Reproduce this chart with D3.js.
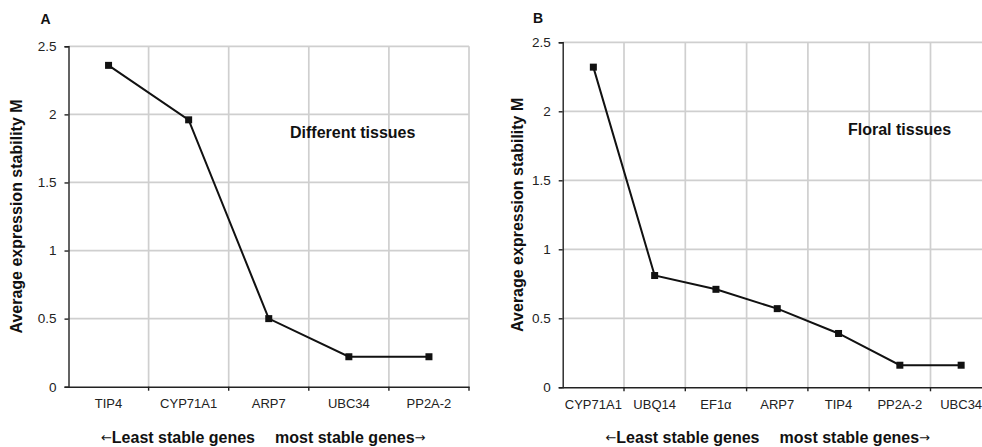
<!DOCTYPE html>
<html>
<head>
<meta charset="utf-8">
<script src="https://cdn.jsdelivr.net/npm/d3@7"></script>
<style>
  html, body { margin: 0; padding: 0; background: #fff; }
  svg { display: block; font-family: "Liberation Sans", Arial, sans-serif; }
</style>
</head>
<body>
<svg id="chart" width="982" height="447"></svg>
<script>
// ---- Data ----
const genesA = ["TIP4", "CYP71A1", "ARP7", "UBC34", "PP2A-2"];
const valuesA = [2.36, 1.96, 0.50, 0.22, 0.22];
const genesB = ["CYP71A1", "UBQ14", "EF1α", "ARP7", "TIP4", "PP2A-2", "UBC34"];
const valuesB = [2.32, 0.81, 0.71, 0.57, 0.39, 0.16, 0.16];
const yTicks = [0, 0.5, 1, 1.5, 2, 2.5];
const panelLabels = ["A", "B"];
const panelNotes = ["Different tissues", "Floral tissues"];
const yTitle = "Average expression stability M";
const xTitleLeft = "Least stable genes";
const xTitleRight = "most stable genes";

const svg = d3.select("#chart");

function panel(cfg) {
  const { left, right, top, bottom, genes, values, label, note, noteX, noteY,
          labelX, labelY, yTitleX, xTitleX } = cfg;
  const g = svg.append("g");
  const x = d3.scaleBand().domain(genes).range([left, right]).padding(0);
  const y = d3.scaleLinear().domain([0, 2.5]).range([bottom, top]);

  // horizontal grid
  g.append("g").selectAll("line").data(yTicks.filter(d => d > 0)).join("line")
    .attr("x1", left).attr("x2", right)
    .attr("y1", d => y(d)).attr("y2", d => y(d))
    .attr("stroke", "#cfcfcf").attr("stroke-width", 1.7);
  // vertical grid at band boundaries
  const bounds = genes.map(gn => x(gn) + x.bandwidth());
  g.append("g").selectAll("line").data(bounds).join("line")
    .attr("x1", d => d).attr("x2", d => d)
    .attr("y1", top).attr("y2", bottom)
    .attr("stroke", "#cfcfcf").attr("stroke-width", 1.7);

  // y axis
  const ya = g.append("g").attr("transform", `translate(${left},0)`)
    .call(d3.axisLeft(y).tickValues(yTicks).tickSize(4).tickPadding(8)
      .tickFormat(d => d3.format("")(d)));
  ya.select(".domain").attr("stroke", "#222").attr("stroke-width", 1.4);
  ya.selectAll(".tick line").attr("stroke", "#222").attr("stroke-width", 1.4);
  ya.selectAll(".tick text").attr("font-size", 13.5).attr("fill", "#222")
    .attr("font-family", "Liberation Sans, Arial, sans-serif");

  // x axis
  const xa = g.append("g").attr("transform", `translate(0,${bottom})`)
    .call(d3.axisBottom(x).tickSize(0).tickPadding(12));
  xa.select(".domain").attr("stroke", "#222").attr("stroke-width", 1.4);
  xa.selectAll(".tick text").attr("font-size", 13).attr("fill", "#222")
    .attr("font-family", "Liberation Sans, Arial, sans-serif");
  g.append("g").selectAll("line").data(bounds).join("line")
    .attr("x1", d => d).attr("x2", d => d)
    .attr("y1", bottom).attr("y2", bottom + 4)
    .attr("stroke", "#222").attr("stroke-width", 1.4);

  // line
  const pts = genes.map((gn, i) => [x(gn) + x.bandwidth() / 2, y(values[i])]);
  g.append("path").datum(pts)
    .attr("d", d3.line())
    .attr("fill", "none").attr("stroke", "#111").attr("stroke-width", 2);
  g.append("g").selectAll("rect").data(pts).join("rect")
    .attr("x", d => d[0] - 3.5).attr("y", d => d[1] - 3.5)
    .attr("width", 7).attr("height", 7).attr("fill", "#111");

  // texts
  g.append("text").attr("x", labelX).attr("y", labelY)
    .attr("text-anchor", "middle").attr("font-weight", "bold").attr("font-size", 14)
    .attr("fill", "#111").text(label);
  g.append("text").attr("x", noteX).attr("y", noteY)
    .attr("font-weight", "bold").attr("font-size", 16)
    .attr("fill", "#111").text(note);
  g.append("text")
    .attr("transform", `translate(${yTitleX},${(top + bottom) / 2}) rotate(-90)`)
    .attr("text-anchor", "middle").attr("font-weight", "bold").attr("font-size", 16)
    .attr("fill", "#111").text(yTitle);
  // x title: two halves around a gap, with thin arrows
  const lt = g.append("text").attr("x", xTitleX - 10).attr("y", 443)
    .attr("text-anchor", "end").attr("fill", "#111");
  lt.append("tspan").attr("font-family", "DejaVu Sans").attr("font-size", 13).attr("dy", -1).text("←");
  lt.append("tspan").attr("font-weight", "bold").attr("font-size", 16).attr("dy", 1).text(xTitleLeft);
  const rt = g.append("text").attr("x", xTitleX + 10).attr("y", 443)
    .attr("text-anchor", "start").attr("fill", "#111");
  rt.append("tspan").attr("font-weight", "bold").attr("font-size", 16).text(xTitleRight);
  rt.append("tspan").attr("font-family", "DejaVu Sans").attr("font-size", 13).attr("dy", -1).text("→");
}

panel({
  left: 68.5, right: 469, top: 46.3, bottom: 386.7,
  genes: genesA, values: valuesA, label: panelLabels[0], note: panelNotes[0],
  noteX: 290, noteY: 137.5, labelX: 45.5, labelY: 23.5, yTitleX: 22, xTitleX: 265
});
panel({
  left: 562.7, right: 991.8, top: 42.3, bottom: 387.3,
  genes: genesB, values: valuesB, label: panelLabels[1], note: panelNotes[1],
  noteX: 848, noteY: 135, labelX: 538, labelY: 23, yTitleX: 523, xTitleX: 769.5
});
</script>
</body>
</html>
